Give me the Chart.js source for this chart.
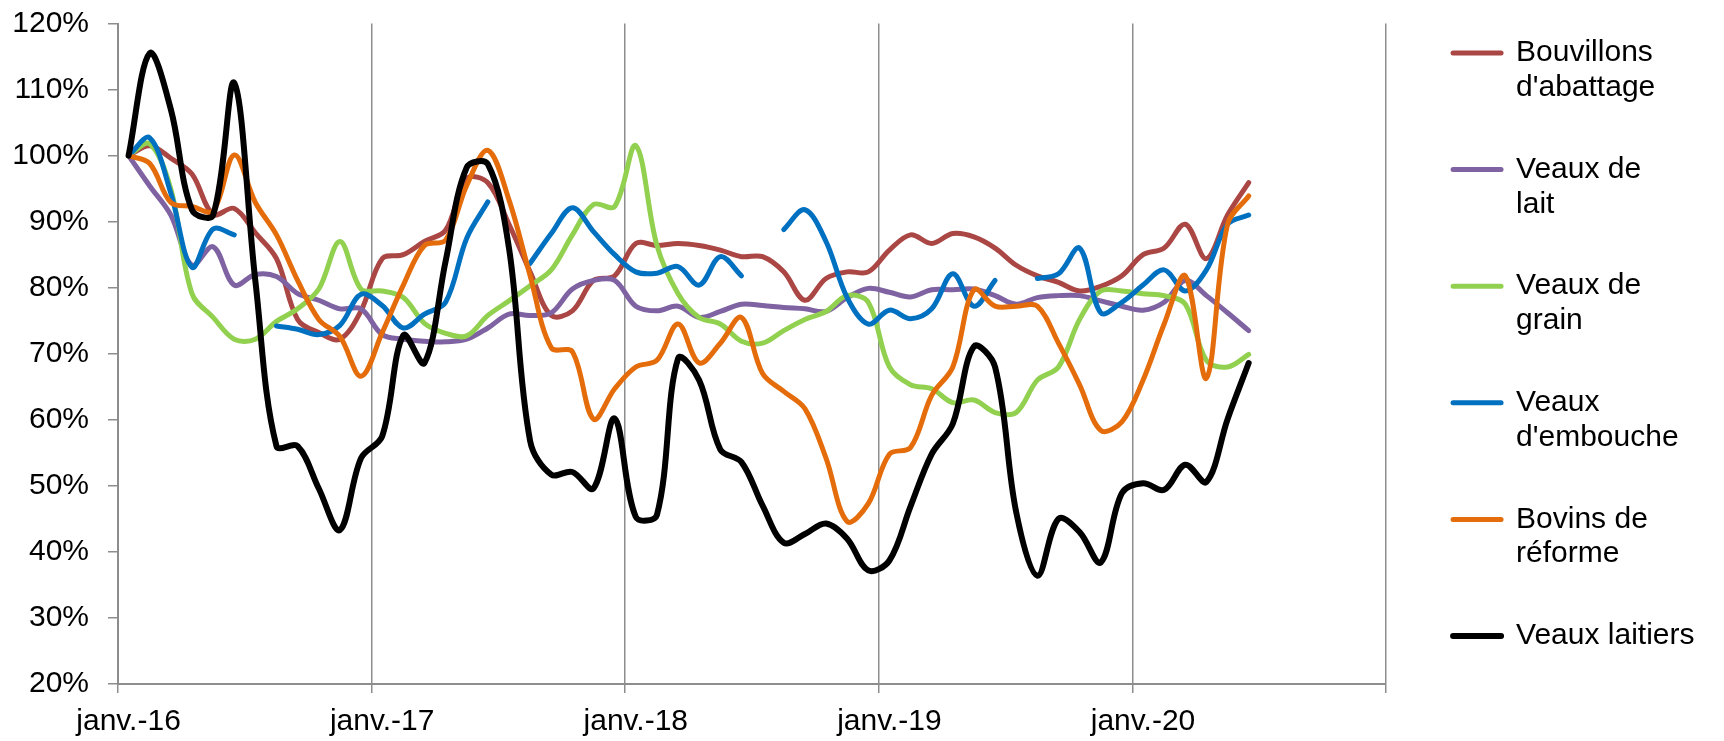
<!DOCTYPE html>
<html lang="fr">
<head>
<meta charset="utf-8">
<title>Indices de prix des bovins</title>
<script src="https://cdn.jsdelivr.net/npm/chart.js@4.4.1/dist/chart.umd.min.js"></script>
<style>
  html, body { margin: 0; padding: 0; background: #fff; }
  #cadre { width: 1724px; height: 741px; position: relative; }
</style>
</head>
<body>
<div id="cadre"><canvas id="graphique"></canvas></div>
<script>
// categories: one per month, janv.-16 to déc.-20
var mois = ['janv.', 'févr.', 'mars', 'avr.', 'mai', 'juin', 'juil.', 'août', 'sept.', 'oct.', 'nov.', 'déc.'];
var annees = ['16', '17', '18', '19', '20'];

// values in % (janv.-16 = 100), janv.-16 to juin-20
var bouvillonsAbattage = [100, 101.5, 99.6, 97.2, 91.1, 92, 88.3, 84.4, 75.2, 73.2, 72.2, 76.5, 84.4, 85, 87, 88.7, 96.5, 95.9, 89.6, 82.4, 75.8, 76.5, 81.1, 81.8, 86.7, 86.4, 86.7, 86.4, 85.7, 84.7, 84.7, 82.4, 78.1, 81.4, 82.4, 82.4, 85.7, 88, 86.7, 88.2, 87.7, 86, 83.4, 81.8, 80.8, 79.5, 80.2, 81.8, 85, 86, 89.6, 84.4, 91, 95.9];
var veauxLait = [100, 95.4, 91, 83.4, 86.2, 80.4, 82, 81.7, 79.1, 78.1, 76.8, 76.8, 72.9, 72.2, 71.9, 71.8, 72.2, 73.9, 76, 75.8, 76.2, 79.8, 81.1, 81.1, 77.2, 76.5, 77.2, 75.5, 76.4, 77.5, 77.3, 77, 76.8, 76.4, 78.5, 79.9, 79.3, 78.6, 79.7, 79.7, 79.8, 78.8, 77.5, 78.5, 78.8, 78.8, 78, 77.2, 76.6, 77.8, 81.1, 78.8, 76.2, 73.5];
var veauxGrain = [100, 101.8, 94.9, 79.1, 75.5, 72.2, 72.2, 74.9, 76.8, 79.8, 87, 79.8, 79.5, 78.5, 74.6, 73.1, 72.7, 75.8, 78, 80.3, 82.7, 88, 92.6, 92.3, 101.5, 86.4, 79.1, 75.5, 74.5, 71.9, 71.6, 73.5, 75.2, 76.4, 78.8, 77.8, 68, 65.3, 64.7, 62.6, 63, 61.1, 61.1, 66, 68, 75.2, 79.5, 79.5, 79.1, 78.8, 77.5, 69, 68, 69.9];
var veauxEmbouche = [100, 102.7, 94.3, 83.1, 88.9, 88, null, 74.2, 73.7, 72.9, 74.3, 79, 77.3, 73.9, 76, 77.8, 87.5, 93, null, 83.7, 88.2, 92.1, 88.5, 85, 82.4, 82.2, 83.2, 80.4, 84.7, 81.8, null, 88.8, 91.8, 87, 78.5, 74.5, 76.6, 75.3, 76.8, 82.1, 77.2, 81.1, null, 81.4, 82.1, 86, 76.2, 77.8, 80.4, 82.7, 79.5, 82.7, 89.6, 91];
var bovinsReforme = [100, 98.8, 92.9, 92.3, 91.6, 100.1, 92.9, 88, 81.1, 75.2, 72.6, 66.6, 73.2, 80.4, 86.4, 87.2, 95.5, 100.8, 93.3, 81.8, 70.9, 70.3, 60.1, 64.7, 68, 69, 74.5, 68.6, 71.6, 75.5, 67, 64.3, 61.7, 54.2, 44.6, 47.3, 54.8, 55.8, 63.7, 68, 79.7, 77.2, 77.2, 77.2, 71.6, 65.3, 58.4, 59.7, 66, 74.5, 81.8, 66.3, 89.6, 93.9];
var veauxLaitiers = [100, 115.5, 107, 91.8, 91, 111, 81, 56, 56, 49.6, 43.3, 54.2, 57.5, 72.8, 68.6, 84, 98.2, 98.7, 86, 56.8, 51.7, 52.1, 49.6, 60.2, 45.3, 45.6, 69.3, 66, 55.5, 53.6, 47, 41.4, 42.7, 44.3, 42, 37.2, 38.7, 46.9, 54.8, 59.4, 71.1, 68, 46, 36.4, 45, 43, 38.4, 48.9, 50.4, 49.4, 53.2, 50.6, 60.1, 68.6];

var categories = [];
annees.forEach(function (a) {
  mois.forEach(function (m) { categories.push(m + '-' + a); });
});

var gris = '#8D8D8D';
var police = { family: "'Liberation Sans', Arial, sans-serif", size: 30 };

function serie(nom, valeurs, couleur, largeur, ordre) {
  return {
    label: nom,
    data: valeurs,
    borderColor: couleur,
    backgroundColor: couleur,
    borderWidth: largeur,
    borderCapStyle: 'round',
    borderJoinStyle: 'round',
    pointRadius: 0,
    tension: 0.35,
    spanGaps: false,
    order: ordre
  };
}

// put the legend where Excel had it
var placerLegende = {
  id: 'placerLegende',
  afterLayout: function (chart) {
    var lg = chart.legend;
    var largeur = lg.right - lg.left;
    lg.left = chart.chartArea.right + 20;
    lg.right = lg.left + largeur;
    lg.top = -9;
  }
};

new Chart(document.getElementById('graphique'), {
  type: 'line',
  data: {
    labels: categories,
    datasets: [
      serie(['Bouvillons', "d'abattage"], bouvillonsAbattage, '#AA4643', 5, 6),
      serie(['Veaux de', 'lait'], veauxLait, '#7F62A1', 5, 5),
      serie(['Veaux de', 'grain'], veauxGrain, '#92D050', 5, 4),
      serie(['Veaux', "d'embouche"], veauxEmbouche, '#0070C0', 5, 3),
      serie(['Bovins de', 'réforme'], bovinsReforme, '#E46C0A', 5, 2),
      serie('Veaux laitiers', veauxLaitiers, '#000000', 6, 1)
    ]
  },
  options: {
    responsive: true,
    maintainAspectRatio: false,
    animation: false,
    devicePixelRatio: 1,
    layout: { padding: { top: 23.5, right: 39.5, bottom: 0, left: 0 } },
    scales: {
      x: {
        type: 'category',
        offset: true,
        afterFit: function (axe) { axe.height = 57; },
        grid: {
          offset: true,
          drawOnChartArea: true,
          tickLength: 9,
          lineWidth: 1.5,
          color: function (c) {
            return (c.type === 'scale' || c.index % 12 === 0) ? gris : 'rgba(0,0,0,0)';
          }
        },
        border: { display: true, color: gris, width: 2 },
        ticks: {
          autoSkip: false,
          maxRotation: 0,
          minRotation: 0,
          padding: 10.5,
          color: '#000',
          font: police,
          callback: function (v, i) {
            return i % 12 === 0 ? this.getLabelForValue(v) : '';
          }
        }
      },
      y: {
        min: 20,
        max: 120,
        afterFit: function (axe) {
          axe.width = 118;
          axe.paddingTop = 0;
          axe.paddingBottom = 0;
        },
        grid: { drawOnChartArea: false, tickLength: 10, lineWidth: 1.5, color: gris },
        border: { display: true, color: gris, width: 2 },
        ticks: {
          stepSize: 10,
          padding: 19,
          color: '#000',
          font: police,
          callback: function (v) { return v + '%'; }
        }
      }
    },
    plugins: {
      tooltip: { enabled: false },
      legend: {
        position: 'right',
        align: 'start',
        labels: {
          boxWidth: 48,
          boxHeight: 0,
          padding: 47,
          color: '#000',
          font: { family: police.family, size: 30, lineHeight: 1.16 },
          sort: function (a, b) { return a.datasetIndex - b.datasetIndex; }
        }
      }
    }
  },
  plugins: [placerLegende]
});
</script>
</body>
</html>
